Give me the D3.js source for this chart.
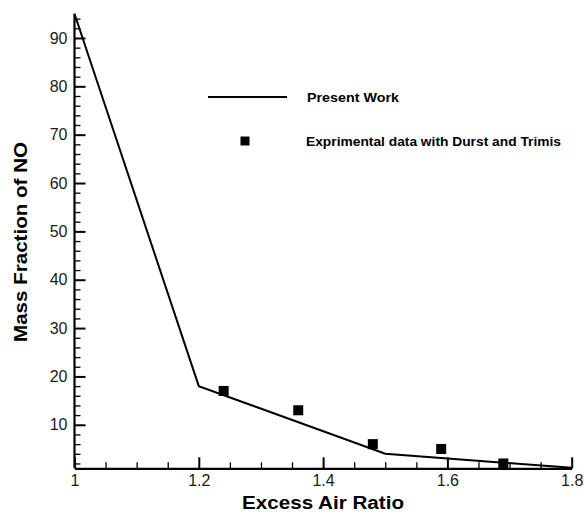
<!DOCTYPE html>
<html lang="en">
<head>
  <meta charset="UTF-8">
  <title>Mass Fraction of NO</title>
  <script src="https://d3js.org/d3.v7.min.js"></script>
  <style>
    body { margin: 0; background: #fff; }
    svg { display: block; }
  </style>
</head>
<body>
  <script>
    // Present work (line)
    const lineX = [1, 1.2, 1.5, 1.8];
    const lineY = [95, 18, 4, 1.1];

    // Experimental data (squares)
    const expX = [1.24, 1.36, 1.48, 1.59, 1.69];
    const expY = [17, 13, 6, 5, 2];

    const xTicks = [1, 1.2, 1.4, 1.6, 1.8];
    const yTicks = [10, 20, 30, 40, 50, 60, 70, 80, 90];

    const width = 584, height = 513;
    const font = '"Liberation Sans", Arial, sans-serif';

    const svg = d3.select('body').append('svg')
      .attr('width', width)
      .attr('height', height)
      .attr('font-family', font);

    const x = d3.scaleLinear().domain([1, 1.8]).range([74.5, 571.7]);
    const y = d3.scaleLinear().domain([1, 95]).range([468.3, 13.8]);

    // minor ticks
    const xMinor = d3.range(1, 1.8001, 0.05).filter(v => !xTicks.some(t => Math.abs(t - v) < 1e-6));
    const yMinor = d3.range(2, 95, 2).filter(v => v % 10 !== 0);

    svg.append('g')
      .attr('transform', `translate(0,${y(1)})`)
      .call(d3.axisBottom(x).tickValues(xMinor).tickSizeInner(-6).tickSizeOuter(0).tickFormat(''))
      .call(g => g.select('.domain').remove())
      .selectAll('line').attr('stroke', '#000').attr('stroke-width', 1.3);

    svg.append('g')
      .attr('transform', `translate(${x(1)},0)`)
      .call(d3.axisLeft(y).tickValues(yMinor).tickSizeInner(-6).tickSizeOuter(0).tickFormat(''))
      .call(g => g.select('.domain').remove())
      .selectAll('line').attr('stroke', '#000').attr('stroke-width', 1.3);

    // major axes
    const xAxis = svg.append('g')
      .attr('transform', `translate(0,${y(1)})`)
      .call(d3.axisBottom(x).tickValues(xTicks).tickSizeInner(-11).tickSizeOuter(0).tickPadding(6)
        .tickFormat(d3.format('')));
    const yAxis = svg.append('g')
      .attr('transform', `translate(${x(1)},0)`)
      .call(d3.axisLeft(y).tickValues(yTicks).tickSizeInner(-11).tickSizeOuter(0).tickPadding(7));

    [xAxis, yAxis].forEach(g => {
      g.attr('font-family', font).attr('font-size', 16);
      g.select('.domain').attr('stroke', '#000').attr('stroke-width', 2.2);
      g.selectAll('.tick line').attr('stroke', '#000').attr('stroke-width', 2);
      g.selectAll('.tick text').attr('fill', '#1a1a1a');
    });

    // y domain runs up to 95
    yAxis.select('.domain').attr('d', `M0,${y(1)}V${y(95)}`);

    // present work line
    const line = d3.line().x(d => x(d[0])).y(d => y(d[1]));
    svg.append('path')
      .datum(d3.zip(lineX, lineY))
      .attr('d', line)
      .attr('fill', 'none')
      .attr('stroke', '#000')
      .attr('stroke-width', 2);

    // experimental squares
    const sq = 10;
    svg.append('g').selectAll('rect')
      .data(d3.zip(expX, expY))
      .join('rect')
      .attr('x', d => x(d[0]) - sq / 2)
      .attr('y', d => y(d[1]) - sq / 2)
      .attr('width', sq)
      .attr('height', sq)
      .attr('fill', '#000');

    // legend
    const legend = svg.append('g')
      .attr('font-size', 13.5)
      .attr('font-weight', 'bold');
    legend.append('line')
      .attr('x1', 208).attr('x2', 287)
      .attr('y1', 97).attr('y2', 97)
      .attr('stroke', '#000').attr('stroke-width', 2);
    legend.append('text')
      .attr('x', 307).attr('y', 102)
      .attr('textLength', 92).attr('lengthAdjust', 'spacingAndGlyphs')
      .text('Present Work');
    legend.append('rect')
      .attr('x', 240.5).attr('y', 136.5)
      .attr('width', 9).attr('height', 9)
      .attr('fill', '#000');
    legend.append('text')
      .attr('x', 306).attr('y', 146)
      .attr('textLength', 255).attr('lengthAdjust', 'spacingAndGlyphs')
      .text('Exprimental data with Durst and Trimis');

    // axis titles
    svg.append('text')
      .attr('x', 242).attr('y', 509)
      .attr('font-size', 18).attr('font-weight', 'bold')
      .attr('textLength', 162).attr('lengthAdjust', 'spacingAndGlyphs')
      .text('Excess Air Ratio');

    svg.append('text')
      .attr('transform', 'translate(27,342) rotate(-90)')
      .attr('font-size', 19).attr('font-weight', 'bold')
      .attr('textLength', 200).attr('lengthAdjust', 'spacingAndGlyphs')
      .text('Mass Fraction of NO');
  </script>
</body>
</html>
